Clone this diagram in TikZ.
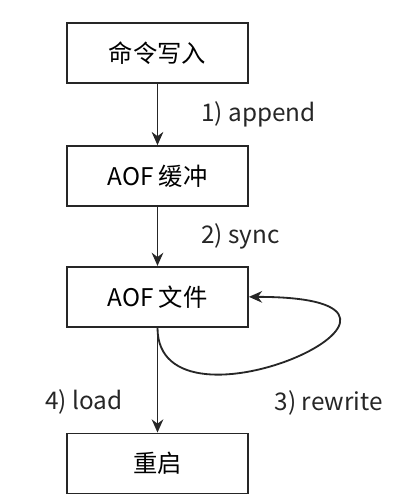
\documentclass[tikz,border=0pt]{standalone}
\usepackage{fontspec}
\setmainfont{Noto Sans CJK SC}
\usetikzlibrary{arrows.meta,positioning,calc}
\tikzset{
 box/.style={draw=black!85,line width=1.3pt,align=center,minimum height=1.5cm,
             minimum width=4.525cm,font=\fontsize{17.3pt}{21pt}\selectfont},
 arrow/.style={-{Stealth[length=3.3mm,width=2.9mm]},line width=1.3pt,draw=black!85},
 lbl/.style={inner sep=0pt,font=\fontsize{17.3pt}{21pt}\selectfont,text=black!85}
}

\begin{document}
\begin{tikzpicture}
\useasboundingbox (0,0) rectangle (10.375,-12.55);
\node[box] (cmd) at (3.9375,-1.33) {命令写入};
\node[box,below=1.525cm of cmd] (buf) {AOF 缓冲};
\node[box,below=1.475cm of buf] (file) {AOF 文件};
\node[box,below=2.62cm of file] (restart) {重启};
\draw[arrow] (cmd)--(buf) node[lbl,midway,anchor=west,xshift=1.075cm] {1) append};
\draw[arrow] (buf)--(file) node[lbl,midway,anchor=west,xshift=1.075cm] {2) sync};
\draw[arrow] (file)--(restart) node[lbl,pos=0.71,anchor=east,xshift=-0.85cm] {4) load};
\draw[arrow] (file.south) .. controls +(0,-3.03) and +(6.05,0) .. (file.east);
\node[lbl,anchor=west] (rw) at ($(file.south)+(2.925,-1.875)$) {3) rewrite};
\end{tikzpicture}
\end{document}
